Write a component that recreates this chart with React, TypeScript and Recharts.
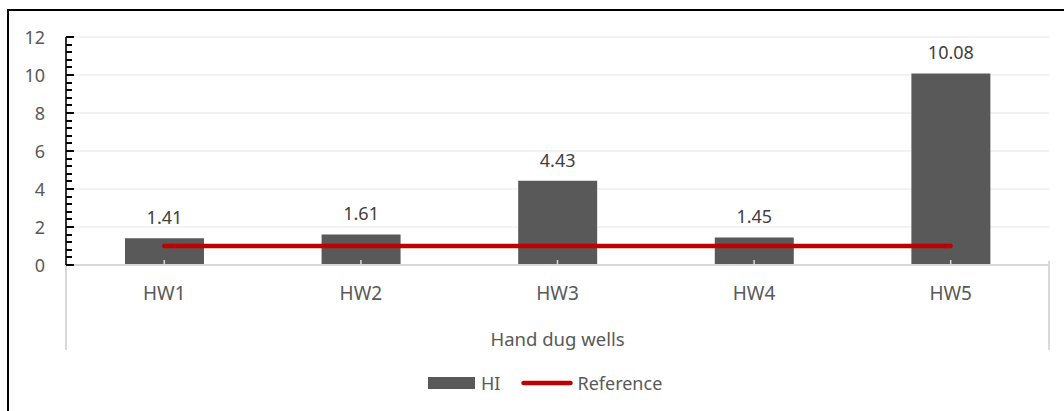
import React from 'react';
import { ComposedChart, Bar, Line, XAxis, YAxis, CartesianGrid, LabelList, Legend } from 'recharts';

const categories = ['HW1', 'HW2', 'HW3', 'HW4', 'HW5'];
const hiValues = [1.41, 1.61, 4.43, 1.45, 10.08];
const referenceValues = [1, 1, 1, 1, 1];
const majorTicks = [0, 2, 4, 6, 8, 10, 12];
const gridTicks = [2, 4, 6, 8, 10, 12];
const allTicks = [
  0, 0.4, 0.8, 1.2, 1.6, 2, 2.4, 2.8, 3.2, 3.6, 4, 4.4, 4.8, 5.2, 5.6, 6,
  6.4, 6.8, 7.2, 7.6, 8, 8.4, 8.8, 9.2, 9.6, 10, 10.4, 10.8, 11.2, 11.6, 12,
];

const data = categories.map((c, i) => ({ name: c, HI: hiValues[i], Reference: referenceValues[i] }));

const W = 1064;
const H = 411;
const PLOT_LEFT = 66;
const PLOT_RIGHT = 1049;
const PLOT_BOTTOM = 265;
const AXIS_BOTTOM = 350;
const FONT = "'Noto Sans', sans-serif";
const TEXT = '#595959';

const YTick = (props: any) => {
  const { x, y, payload } = props;
  const major = majorTicks.includes(payload.value);
  return (
    <g>
      <rect x={x} y={Math.round(y) - 1} width={major ? 8 : 6} height={2} fill="#000" />
      {major && (
        <text x={x - 21} y={y} textAnchor="end" dominantBaseline="central" fill={TEXT} fontSize={18} fontFamily={FONT}>
          {payload.value}
        </text>
      )}
    </g>
  );
};

const XTick = (props: any) => {
  const { x, y, payload } = props;
  return (
    <g>
      <line x1={x} x2={x} y1={y - 5} y2={y} stroke="#d9d9d9" strokeWidth={1.5} />
      <text x={x} y={y + 28} textAnchor="middle" dominantBaseline="central" fill={TEXT} fontSize={19} fontFamily={FONT}>
        {payload.value}
      </text>
    </g>
  );
};

const LegendContent = () => (
  <div style={{ display: 'flex', alignItems: 'center', height: 20, fontFamily: FONT, fontSize: 18, color: TEXT, whiteSpace: 'nowrap' }}>
    <span style={{ display: 'inline-block', width: 47, height: 12, background: '#595959', marginRight: 6 }} />
    <span style={{ marginRight: 21 }}>HI</span>
    <svg width={52} height={10} style={{ marginRight: 4 }}>
      <line x1={2.5} x2={49.5} y1={5} y2={5} stroke="#c00000" strokeWidth={4.5} strokeLinecap="round" />
    </svg>
    <span>Reference</span>
  </div>
);

export default function App() {
  return (
    <div style={{ position: 'absolute', left: 0, top: 0, width: W, height: H, fontFamily: FONT, background: '#fff', overflow: 'hidden' }}>
      <ComposedChart
        width={W}
        height={H}
        data={data}
        margin={{ top: 37, right: W - PLOT_RIGHT, bottom: H - AXIS_BOTTOM - 20, left: 8 }}
        barCategoryGap="30%"
      >
        <CartesianGrid vertical={false} horizontalValues={gridTicks} stroke="#efefef" strokeWidth={1.5} />
        <XAxis
          dataKey="name"
          height={AXIS_BOTTOM - PLOT_BOTTOM}
          axisLine={{ stroke: '#d9d9d9', strokeWidth: 2 }}
          tickLine={false}
          tickSize={0}
          tickMargin={0}
          tick={<XTick />}
          interval={0}
          label={{ value: 'Hand dug wells', position: 'insideBottom', offset: 4, fill: TEXT, fontSize: 18.5, fontFamily: FONT }}
        />
        <YAxis
          type="number"
          domain={[0, 12]}
          ticks={allTicks}
          interval={0}
          width={PLOT_LEFT - 8}
          axisLine={{ stroke: '#000', strokeWidth: 1.6 }}
          tickLine={false}
          tickSize={0}
          tickMargin={0}
          tick={<YTick />}
        />
        <Bar dataKey="HI" fill="#595959" isAnimationActive={false}>
          <LabelList dataKey="HI" position="top" offset={14} fill="#404040" fontSize={18} fontFamily={FONT} />
        </Bar>
        <Line
          dataKey="Reference"
          stroke="#c00000"
          strokeWidth={4.5}
          strokeLinecap="round"
          dot={false}
          activeDot={false}
          isAnimationActive={false}
        />
        <Legend content={<LegendContent />} wrapperStyle={{ top: 373, left: 428, width: 'auto', height: 20 }} />
      </ComposedChart>
      <svg width={W} height={H} style={{ position: 'absolute', left: 0, top: 0, pointerEvents: 'none' }}>
        <rect x={8} y={10} width={W + 20} height={H + 20} fill="none" stroke="#000" strokeWidth={2} />
        <line x1={PLOT_LEFT} x2={PLOT_LEFT} y1={PLOT_BOTTOM + 1} y2={AXIS_BOTTOM} stroke="#d9d9d9" strokeWidth={2} />
        <line x1={PLOT_RIGHT} x2={PLOT_RIGHT} y1={PLOT_BOTTOM - 4} y2={AXIS_BOTTOM} stroke="#d9d9d9" strokeWidth={2} />
      </svg>
    </div>
  );
}
